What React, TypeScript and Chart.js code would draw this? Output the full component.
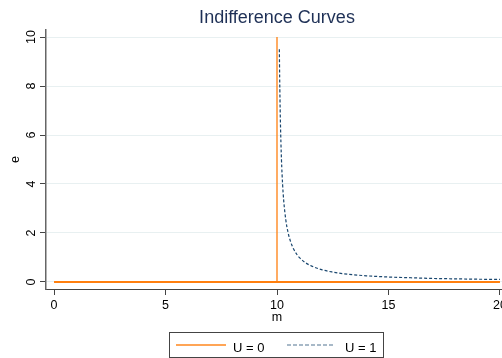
import React, { useEffect, useRef } from "react";
import { Chart, registerables } from "chart.js";

Chart.register(...registerables);

const TITLE = "Indifference Curves";
const X_TITLE = "m";
const Y_TITLE = "e";
const X_TICKS = [0, 5, 10, 15, 20];
const Y_TICKS = [0, 2, 4, 6, 8, 10];

// U = 0 : horizontal at e=0 across m in [0,20], vertical at m=10 up to e=10
const U0_M = [0, 20, 10, 10];
const U0_E = [0, 0, 0, 10];

// U = 1 : curve
const U1_M = [10.105, 10.12, 10.15, 10.2, 10.25, 10.3, 10.4, 10.5, 10.6, 10.75, 10.9, 11, 11.25, 11.5, 12, 12.5, 13, 14, 15, 16, 17, 18, 19, 20];
const U1_E = [9.5, 8.33, 6.67, 5, 4, 3.33, 2.5, 2, 1.67, 1.33, 1.11, 1, 0.8, 0.67, 0.5, 0.4, 0.33, 0.25, 0.2, 0.17, 0.14, 0.125, 0.11, 0.1];

const LEGEND = ["U = 0", "U = 1"];
const ORANGE = "#ff7f0e";
const NAVY = "#1a476f";
const FONT = "'Liberation Sans', Arial, sans-serif";

export default function App() {
  const ref = useRef<HTMLCanvasElement>(null);
  useEffect(() => {
    const canvas = ref.current!;
    const deco = {
      id: "deco",
      afterDraw(chart: any) {
        const ctx = chart.ctx as CanvasRenderingContext2D;
        const xs = chart.scales.x;
        const ys = chart.scales.y;
        const ca = chart.chartArea;
        ctx.save();
        // title
        ctx.fillStyle = "#1e3056";
        ctx.font = `18px ${FONT}`;
        ctx.textAlign = "center";
        ctx.textBaseline = "alphabetic";
        ctx.fillText(TITLE, (ca.left + ca.right) / 2, 22.5);
        // x tick labels
        ctx.fillStyle = "#000";
        ctx.font = `12.5px ${FONT}`;
        X_TICKS.forEach((v) => {
          ctx.fillText(String(v), xs.getPixelForValue(v), 309);
        });
        // x title
        ctx.fillText(X_TITLE, (ca.left + ca.right) / 2, 321);
        // y tick labels
        Y_TICKS.forEach((v) => {
          ctx.save();
          ctx.translate(35, ys.getPixelForValue(v));
          ctx.rotate(-Math.PI / 2);
          ctx.fillText(String(v), 0, 0);
          ctx.restore();
        });
        // y title
        ctx.save();
        ctx.translate(19, (ca.top + ca.bottom) / 2);
        ctx.rotate(-Math.PI / 2);
        ctx.fillText(Y_TITLE, 0, 0);
        ctx.restore();
        // legend
        ctx.strokeStyle = "#444";
        ctx.lineWidth = 1;
        ctx.strokeRect(169.5, 332.5, 214, 25);
        ctx.lineWidth = 2;
        ctx.strokeStyle = "rgba(255,127,14,0.7)";
        ctx.beginPath();
        ctx.moveTo(176, 345);
        ctx.lineTo(226, 345);
        ctx.stroke();
        ctx.lineWidth = 1.2;
        ctx.strokeStyle = "rgba(26,71,111,0.75)";
        ctx.setLineDash([4, 2]);
        ctx.beginPath();
        ctx.moveTo(287, 345);
        ctx.lineTo(334, 345);
        ctx.stroke();
        ctx.setLineDash([]);
        ctx.fillStyle = "#000";
        ctx.font = `13px ${FONT}`;
        ctx.textAlign = "left";
        ctx.fillText(LEGEND[0], 233, 351.5);
        ctx.fillText(LEGEND[1], 345, 351.5);
        ctx.restore();
      },
    };
    const chart = new Chart(canvas, {
      type: "scatter",
      data: {
        datasets: [
          {
            label: LEGEND[0],
            data: U0_M.map((m, i) => ({ x: m, y: U0_E[i] })),
            showLine: true,
            borderColor: ORANGE,
            borderWidth: 1.3,
            segment: {
              borderWidth: (c: any) => (c.p0.parsed.y === 0 && c.p1.parsed.y === 0 ? 2 : 1.3),
            },
            pointRadius: 0,
            tension: 0,
          },
          {
            label: LEGEND[1],
            data: U1_M.map((m, i) => ({ x: m, y: U1_E[i] })),
            showLine: true,
            borderColor: NAVY,
            borderWidth: 1.2,
            borderDash: [3, 2],
            pointRadius: 0,
            cubicInterpolationMode: "monotone",
          },
        ],
      },
      options: {
        responsive: false,
        animation: false,
        devicePixelRatio: 1,
        layout: { padding: { top: 30, left: 0, right: 22, bottom: 0 } },
        plugins: { legend: { display: false }, title: { display: false }, tooltip: { enabled: false } },
        scales: {
          x: {
            type: "linear",
            min: -0.36,
            max: 20.36,
            afterBuildTicks: (s: any) => {
              s.ticks = X_TICKS.map((v) => ({ value: v }));
            },
            afterFit: (s: any) => {
              s.height = 69;
            },
            ticks: { display: false },
            grid: { drawOnChartArea: false, drawTicks: true, tickLength: 6, tickColor: "#444", tickWidth: 1 },
            border: { display: true, color: "#444", width: 1 },
          },
          y: {
            type: "linear",
            min: -0.29,
            max: 10.29,
            afterBuildTicks: (s: any) => {
              s.ticks = Y_TICKS.map((v) => ({ value: v }));
            },
            afterFit: (s: any) => {
              s.width = 46;
            },
            ticks: { display: false },
            grid: { color: "#e8f0f1", lineWidth: 1, drawTicks: true, tickLength: 6, tickColor: "#444", tickWidth: 1 },
            border: { display: true, color: "#666", width: 1.5 },
          },
        },
      },
      plugins: [deco],
    } as any);
    return () => chart.destroy();
  }, []);
  return (
    <div style={{ position: "absolute", left: 0, top: 0, width: 502, height: 358, overflow: "hidden", background: "#fff" }}>
      <canvas ref={ref} width={530} height={358} style={{ width: 530, height: 358, display: "block" }} />
    </div>
  );
}
